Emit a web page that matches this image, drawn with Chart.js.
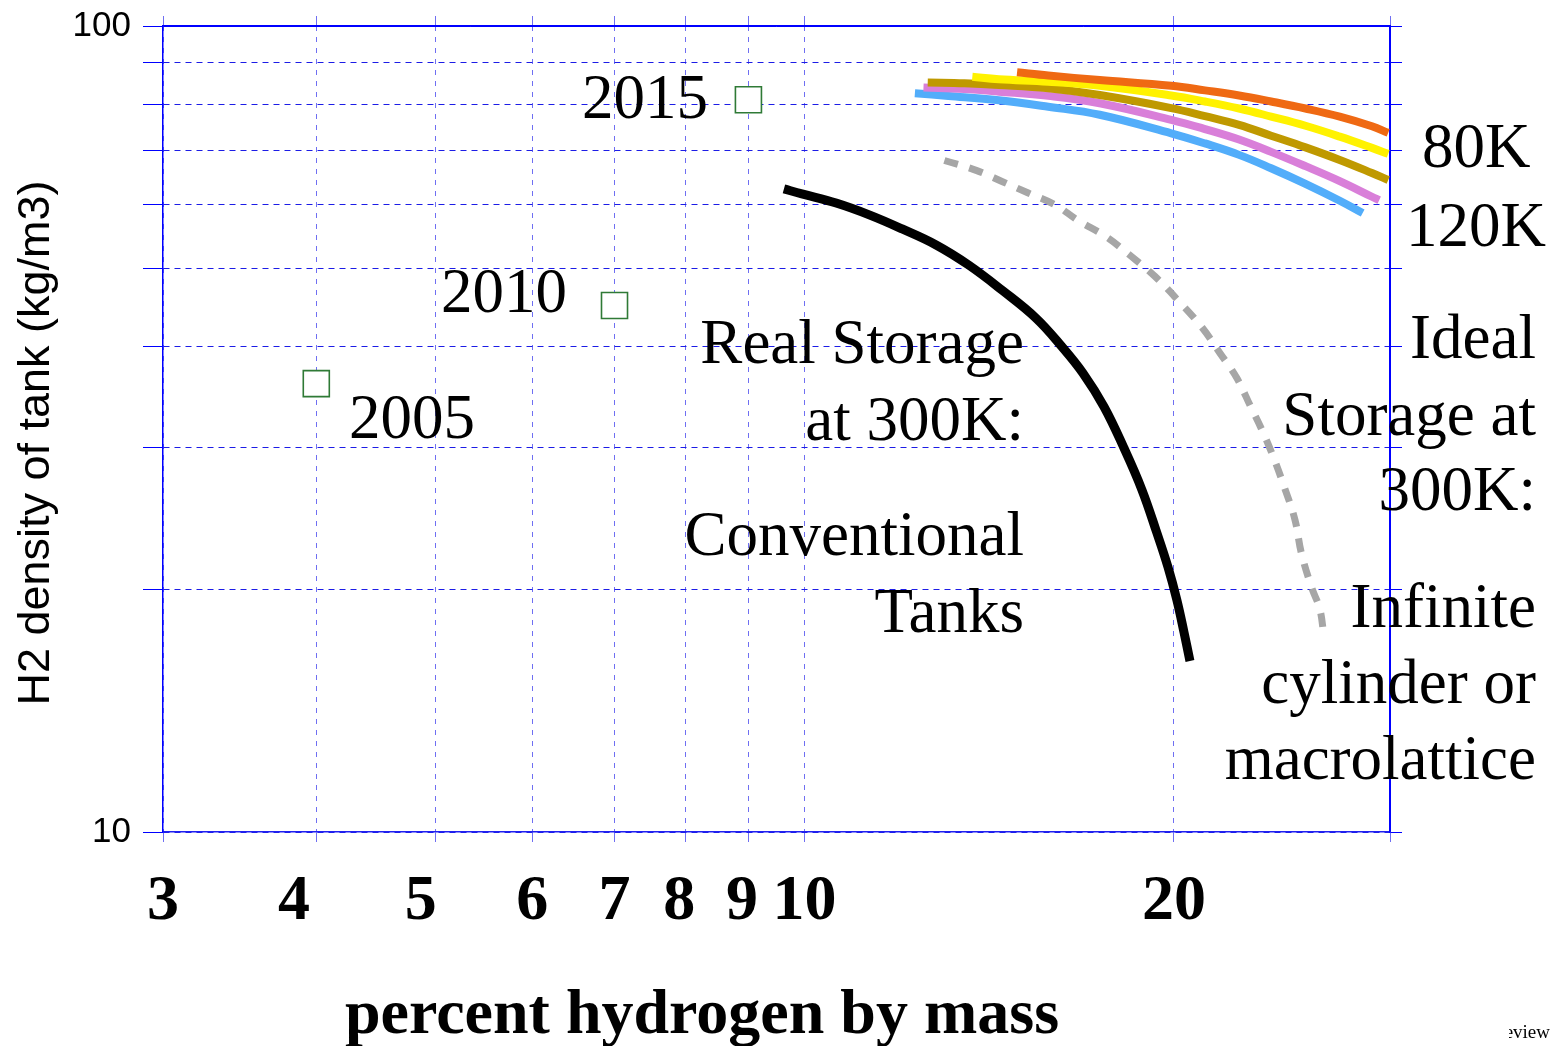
<!DOCTYPE html>
<html>
<head>
<meta charset="utf-8">
<script src="https://cdn.jsdelivr.net/npm/chart.js@4.4.1/dist/chart.umd.min.js"></script>
<style>
  body { margin: 0; background: #fff; }
</style>
</head>
<body>
<canvas id="chart" width="1550" height="1046"></canvas>
<script>
// grid positions and the tick labels that are printed on the axes
const xGridValues = [3, 4, 5, 6, 7, 8, 9, 10, 20, 30];
const xTickLabels = [3, 4, 5, 6, 7, 8, 9, 10, 20];
const yGridValues = [10, 20, 30, 40, 50, 60, 70, 80, 90, 100];
const yTickLabels = [10, 100];

// targets (green squares)
const targetYears = ['2005', '2010', '2015'];
const targetX = [4.0, 7.0, 9.0];
const targetY = [36, 45, 81];

// Real storage at 300K: conventional tanks
const realX = [9.62, 9.95, 10.61, 11.29, 12.01, 12.80, 13.61, 14.49, 15.44, 16.21, 16.86, 17.54, 18.20, 18.83, 19.37, 19.78, 20.11, 20.38, 20.61];
const realY = [62.8, 61.9, 60.3, 58.3, 56.0, 53.5, 50.5, 47.0, 43.4, 40.0, 37.1, 33.7, 30.0, 26.6, 23.5, 21.3, 19.4, 17.7, 16.3];

// Ideal storage at 300K: infinite cylinder or macrolattice
const idealX = [13.0, 13.8, 14.5, 15.2, 16.0, 16.7, 17.6, 18.4, 19.3, 20.2, 21.1, 21.8, 22.5, 23.1, 23.6, 24.1, 24.6, 25.1, 25.4, 25.9, 26.3, 26.5];
const idealY = [68.1, 66.2, 64.1, 62.1, 60.0, 57.4, 54.8, 52.0, 48.9, 45.5, 42.2, 39.3, 36.6, 33.7, 31.5, 29.2, 26.8, 24.4, 22.2, 20.1, 18.9, 17.5];

// cryogenic curves, 80K (top) to 120K (bottom)
const k80X = [14.9, 15.8, 17.4, 19.9, 21.2, 22.6, 24.0, 25.6, 27.3, 29.0, 29.9];
const k80Y = [87.6, 86.8, 85.7, 84.3, 83.2, 82.0, 80.6, 79.0, 77.2, 75.1, 73.7];
const k90X = [13.7, 14.4, 15.8, 17.4, 19.9, 21.2, 22.6, 24.0, 25.6, 27.3, 29.0, 29.9];
const k90Y = [86.5, 85.9, 85.3, 84.3, 82.0, 80.6, 79.0, 77.2, 75.2, 72.9, 70.6, 69.4];
const k100X = [12.6, 13.5, 14.4, 15.8, 17.4, 19.9, 21.2, 22.6, 24.0, 25.6, 27.3, 29.0, 29.9];
const k100Y = [85.1, 84.9, 84.5, 83.7, 82.1, 79.1, 77.3, 75.4, 73.1, 70.7, 68.2, 65.7, 64.4];
const k110X = [12.5, 13.5, 14.4, 15.8, 17.4, 19.9, 21.2, 22.6, 24.0, 25.6, 27.3, 29.0, 29.4];
const k110Y = [83.9, 83.5, 82.9, 81.9, 80.2, 76.5, 74.5, 72.3, 69.8, 67.0, 64.2, 61.4, 60.8];
const k120X = [12.3, 13.1, 14.4, 15.8, 17.4, 19.9, 21.2, 22.6, 24.0, 25.6, 27.3, 28.5];
const k120Y = [82.5, 81.9, 80.9, 79.4, 77.6, 73.6, 71.5, 69.2, 66.6, 63.7, 60.7, 58.6];

const pts = (xs, ys) => xs.map((x, i) => ({ x: x, y: ys[i] }));

function curve(xs, ys, color, width, extra) {
    return Object.assign({
        data: pts(xs, ys),
        showLine: true,
        borderColor: color,
        borderWidth: width,
        pointRadius: 0,
        tension: 0.4,
        fill: false
    }, extra || {});
}

const serif = '"Liberation Serif", "Times New Roman", serif';
const sans = '"Liberation Sans", Arial, sans-serif';

// free text on the plot (labels, axis titles)
const notes = [
    { text: '2015', x: 708, y: 118, align: 'right' },
    { text: '2010', x: 567, y: 312, align: 'right' },
    { text: '2005', x: 349, y: 438, align: 'left' },
    { text: 'Real Storage', x: 1024, y: 363, align: 'right' },
    { text: 'at 300K:', x: 1024, y: 440, align: 'right' },
    { text: 'Conventional', x: 1024, y: 555, align: 'right' },
    { text: 'Tanks', x: 1024, y: 632, align: 'right' },
    { text: '80K', x: 1422, y: 167, align: 'left' },
    { text: '120K', x: 1406, y: 246, align: 'left' },
    { text: 'Ideal', x: 1536, y: 358, align: 'right' },
    { text: 'Storage at', x: 1536, y: 435, align: 'right' },
    { text: '300K:', x: 1536, y: 510, align: 'right' },
    { text: 'Infinite', x: 1536, y: 627, align: 'right' },
    { text: 'cylinder or', x: 1536, y: 703, align: 'right' },
    { text: 'macrolattice', x: 1536, y: 779, align: 'right' }
];

const textPlugin = {
    id: 'textPlugin',
    afterDraw(chart) {
        const ctx = chart.ctx;
        ctx.save();
        ctx.fillStyle = '#000';
        ctx.textBaseline = 'alphabetic';
        ctx.font = '63px ' + serif;
        notes.forEach(n => {
            ctx.textAlign = n.align;
            ctx.fillText(n.text, n.x, n.y);
        });

        // x axis title
        ctx.font = 'bold 64px ' + serif;
        ctx.textAlign = 'center';
        ctx.fillText('percent hydrogen by mass', 702, 1033);

        // y axis title
        ctx.save();
        ctx.translate(49, 443);
        ctx.rotate(-Math.PI / 2);
        ctx.font = '45px ' + sans;
        ctx.textAlign = 'center';
        ctx.fillText('H2 density of tank (kg/m3)', 0, 0);
        ctx.restore();

        // clipped watermark in the corner
        ctx.save();
        ctx.beginPath();
        ctx.rect(1509, 1010, 60, 36);
        ctx.clip();
        ctx.font = '19px ' + serif;
        ctx.textAlign = 'right';
        ctx.fillText('Preview', 1550, 1038);
        ctx.restore();
        ctx.restore();
    }
};

const near = (v, list) => list.some(t => Math.abs(v - t) < 1e-6);
const setTicks = list => s => { s.ticks = list.map(v => ({ value: v })); };

// the original prints some labels a little left of their tick
function xLabel(v) {
    if (!near(v, xTickLabels)) return '';
    const n = Math.round(v);
    if (n === 4) return '4\u00a0\u00a0\u2009';
    if (n === 5) return '5\u00a0\u2009';
    if (n === 8 || n === 9) return n + '\u2009';
    return String(n);
}

new Chart(document.getElementById('chart').getContext('2d'), {
    type: 'scatter',
    data: {
        datasets: [
            {
                label: 'Targets',
                data: pts(targetX, targetY),
                pointStyle: 'rect',
                pointRadius: 18.4,
                pointBorderColor: '#2f7a36',
                pointBackgroundColor: '#ffffff',
                pointBorderWidth: 1.6,
                showLine: false,
                order: 0
            },
            curve(realX, realY, '#000000', 9, { order: 1 }),
            curve(idealX, idealY, '#a6a6a6', 7, { borderDash: [14, 12], order: 2 }),
            curve(k80X, k80Y, '#ef6913', 8, { order: 3 }),
            curve(k90X, k90Y, '#fff200', 8, { order: 4 }),
            curve(k100X, k100Y, '#bf9900', 8, { order: 5 }),
            curve(k110X, k110Y, '#d97fd9', 8, { order: 6 }),
            curve(k120X, k120Y, '#52adfa', 8, { order: 7 })
        ]
    },
    options: {
        responsive: false,
        animation: false,
        devicePixelRatio: 1,
        layout: { padding: { left: 0, right: 140, top: 16, bottom: 0 } },
        plugins: {
            legend: { display: false },
            tooltip: { enabled: false }
        },
        scales: {
            x: {
                type: 'logarithmic',
                position: 'bottom',
                min: 3,
                max: 30,
                afterBuildTicks: setTicks(xGridValues),
                afterFit: s => { s.height = 214; },
                grid: {
                    color: c => (c.tick && c.tick.value === 30) ? '#0000ff' : '#6f6ff2',
                    lineWidth: 1,
                    tickLength: 10,
                    tickColor: '#6f6ff2',
                    tickWidth: 1
                },
                border: {
                    color: '#2020f0',
                    width: 1.5,
                    dash: c => (c.tick && c.tick.value === 30) ? [] : [5, 6]
                },
                ticks: {
                    autoSkip: false,
                    maxRotation: 0,
                    padding: 22,
                    color: '#000',
                    font: { family: serif, size: 64, weight: 'bold', lineHeight: 1.2 },
                    callback: xLabel
                }
            },
            xTop: {
                type: 'logarithmic',
                position: 'top',
                min: 3,
                max: 30,
                afterBuildTicks: setTicks(xGridValues),
                afterFit: s => { s.height = 10; },
                grid: {
                    drawOnChartArea: false,
                    tickLength: 10,
                    tickColor: '#6f6ff2',
                    tickWidth: 1
                },
                border: { color: '#0000ff', width: 1.5 },
                ticks: { display: false }
            },
            y: {
                type: 'logarithmic',
                position: 'left',
                min: 10,
                max: 100,
                afterBuildTicks: setTicks(yGridValues),
                afterFit: s => { s.width = 163; },
                grid: {
                    color: c => (c.tick && c.tick.value === 100) ? '#0000ff' : '#1c1ce6',
                    lineWidth: 1,
                    tickLength: 20,
                    tickColor: '#0000ff',
                    tickWidth: 1
                },
                border: {
                    color: '#0000ff',
                    width: 1.5,
                    dash: c => (c.tick && c.tick.value === 100) ? [] : [6, 5]
                },
                ticks: {
                    autoSkip: false,
                    padding: 12,
                    color: '#000',
                    font: { family: sans, size: 35, lineHeight: 0.8 },
                    callback: v => near(v, yTickLabels) ? String(Math.round(v)) : ''
                }
            },
            yRight: {
                type: 'logarithmic',
                position: 'right',
                min: 10,
                max: 100,
                afterBuildTicks: setTicks(yGridValues),
                afterFit: s => { s.width = 20; },
                grid: {
                    drawOnChartArea: false,
                    tickLength: 12,
                    tickColor: '#0000ff',
                    tickWidth: 1
                },
                border: { color: '#0000ff', width: 1.5 },
                ticks: { display: false }
            }
        }
    },
    plugins: [textPlugin]
});
</script>
</body>
</html>
